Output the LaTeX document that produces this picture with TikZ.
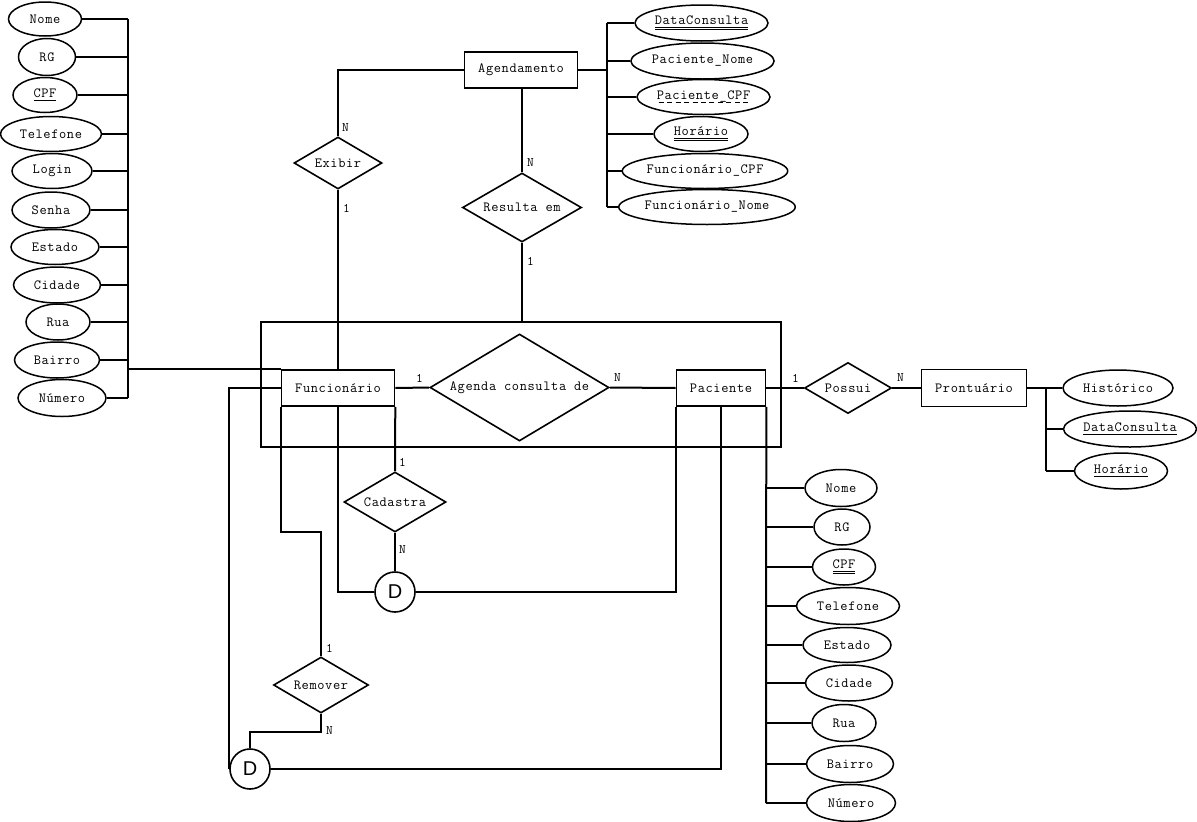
\documentclass[tikz,border=0pt]{standalone}
\usepackage{fontspec}
\setmainfont{Liberation Mono}
\newfontfamily\dfont{Liberation Sans}
\newfontfamily\courf{Latin Modern Mono}[LetterSpace=4.5]
\usetikzlibrary{shapes.geometric}
\newcommand\myul[1]{\setbox0\hbox{#1}\rlap{\rule[-3pt]{\wd0}{1.3pt}}\box0}
\newcommand\mydul[1]{\setbox0\hbox{#1}\rlap{\rule[-2.6pt]{\wd0}{0.9pt}}\rlap{\rule[-4.8pt]{\wd0}{0.9pt}}\box0}
\newcommand\mydashul[1]{\setbox0\hbox{#1}\rlap{\hbox to \wd0{\xleaders\hbox to 8pt{\hss\rule[-3.5pt]{5pt}{1.3pt}\hss}\hfill}}\box0}
\begin{document}
\begin{tikzpicture}[x=1pt,y=-1pt,
  font=\courf\fontsize{14}{16}\selectfont,
  attr/.style={ellipse,draw,line width=1.5pt,inner sep=0pt},
  ent/.style={rectangle,draw,line width=1.6pt,inner sep=0pt},
  rel/.style={diamond,draw,line width=1.6pt,inner sep=0pt,aspect=1.7},
  card/.style={anchor=west,inner sep=0pt,font=\courf\fontsize{13}{15}\selectfont},
  disj/.style={circle,draw,line width=1.6pt,minimum size=40pt,inner sep=0pt,font=\dfont\fontsize{20}{22}\selectfont},
  conn/.style={line width=2pt}]
\useasboundingbox (0,0) rectangle (1197,822);
% aggregation rectangle
\node[draw,line width=1.8pt,minimum width=520pt,minimum height=125pt,inner sep=0pt] (agg) at (521,384.5) {};
% Funcionario attributes
\node[attr,minimum width=73pt,minimum height=34pt] (fa1) at (45,19) {Nome};
\node[attr,minimum width=57pt,minimum height=37pt] (fa2) at (47,57) {RG};
\node[attr,minimum width=64pt,minimum height=35pt] (fa3) at (45,95) {\myul{CPF}};
\node[attr,minimum width=101pt,minimum height=35pt] (fa4) at (51,134) {Telefone};
\node[attr,minimum width=80pt,minimum height=35pt] (fa5) at (52,171) {Login};
\node[attr,minimum width=78pt,minimum height=36pt] (fa6) at (51,210) {Senha};
\node[attr,minimum width=88pt,minimum height=35pt] (fa7) at (55,247) {Estado};
\node[attr,minimum width=87pt,minimum height=36pt] (fa8) at (57,285) {Cidade};
\node[attr,minimum width=64pt,minimum height=36pt] (fa9) at (58,322) {Rua};
\node[attr,minimum width=85pt,minimum height=36pt] (fa10) at (57,360) {Bairro};
\node[attr,minimum width=88pt,minimum height=37pt] (fa11) at (62,398) {Número};
\coordinate (fbusT) at (128,19);
\coordinate (fbusB) at (128,398);
% Agendamento attributes
\node[attr,minimum width=133pt,minimum height=36pt] (aa1) at (701.5,23) {\mydul{DataConsulta}};
\node[attr,minimum width=141pt,minimum height=36pt] (aa2) at (702.5,61) {Paciente\_Nome};
\node[attr,minimum width=133pt,minimum height=35pt] (aa3) at (703.5,97) {\mydashul{Paciente\_CPF}};
\node[attr,minimum width=94pt,minimum height=35pt] (aa4) at (701,134) {\mydul{Horário}};
\node[attr,minimum width=156pt,minimum height=35pt] (aa5) at (705,171) {Funcionário\_CPF};
\node[attr,minimum width=166pt,minimum height=35pt] (aa6) at (707,207) {Funcionário\_Nome};
\coordinate (abusT) at (607,23);
\coordinate (abusB) at (607,207);
% Paciente attributes
\node[attr,minimum width=72pt,minimum height=37pt] (pa1) at (841,488) {Nome};
\node[attr,minimum width=56pt,minimum height=36pt] (pa2) at (842,527) {RG};
\node[attr,minimum width=63pt,minimum height=36pt] (pa3) at (844,567) {\mydul{CPF}};
\node[attr,minimum width=103pt,minimum height=37pt] (pa4) at (848,606) {Telefone};
\node[attr,minimum width=88pt,minimum height=35pt] (pa5) at (847,645) {Estado};
\node[attr,minimum width=87pt,minimum height=36pt] (pa6) at (849,683) {Cidade};
\node[attr,minimum width=64pt,minimum height=37pt] (pa7) at (844,723) {Rua};
\node[attr,minimum width=87pt,minimum height=37pt] (pa8) at (850,764) {Bairro};
\node[attr,minimum width=89pt,minimum height=37pt] (pa9) at (851,803) {Número};
\coordinate (pbusB) at (766,803);
% Prontuario attributes
\node[attr,minimum width=110pt,minimum height=36pt] (ra1) at (1118,388) {Histórico};
\node[attr,minimum width=133pt,minimum height=36pt] (ra2) at (1130,429) {\myul{DataConsulta}};
\node[attr,minimum width=93pt,minimum height=36pt] (ra3) at (1121,471) {\myul{Horário}};
\coordinate (rbusT) at (1046,388);
\coordinate (rbusB) at (1046,471);
% entities
\node[ent,minimum width=113pt,minimum height=36pt] (ag) at (521,70) {Agendamento};
\node[ent,minimum width=113pt,minimum height=36pt] (fn) at (338,388) {Funcionário};
\node[ent,minimum width=89pt,minimum height=36pt] (pa) at (721,388) {Paciente};
\node[ent,minimum width=105pt,minimum height=37pt] (pr) at (974,388) {Prontuário};
% relationships
\node[rel,aspect=1.69,minimum width=88pt,minimum height=52pt] (ex) at (338,163) {Exibir};
\node[rel,aspect=1.72,minimum width=119pt,minimum height=69pt] (re) at (522,207.5) {Resulta em};
\node[rel,aspect=1.67,minimum width=179pt,minimum height=107pt] (ac) at (519.5,387.5) {Agenda consulta de};
\node[rel,aspect=1.7,minimum width=87pt,minimum height=51pt] (po) at (848,388) {Possui};
\node[rel,aspect=1.7,minimum width=102pt,minimum height=60pt] (ca) at (395,502) {Cadastra};
\node[rel,aspect=1.7,minimum width=95pt,minimum height=56pt] (rm) at (321,685) {Remover};
\node[disj] (d1) at (395,592) {D};
\node[disj] (d2) at (250,769) {D};
% connectors: Funcionario attributes
\draw[conn] (fbusT) -- (fbusB);
\foreach \n in {fa1,fa2,fa3,fa4,fa5,fa6,fa7,fa8,fa9,fa10,fa11}
  \draw[conn] (\n.east) -- (\n.east -| fbusT);
\draw[conn] (fn.north west) -- (fn.north west -| fbusT);
% Agendamento attributes
\draw[conn] (abusT) -- (abusB);
\draw[conn] (ag.east) -- (ag.east -| abusT);
\foreach \n in {aa1,aa2,aa3,aa4,aa5,aa6}
  \draw[conn] (\n.west) -- (\n.west -| abusT);
% Paciente attributes
\draw[conn] (pa.south east) -- (pbusB);
\foreach \n in {pa1,pa2,pa3,pa4,pa5,pa6,pa7,pa8,pa9}
  \draw[conn] (\n.west) -- (\n.west -| pbusB);
% Prontuario attributes
\draw[conn] (pr.east) -- (ra1.west);
\draw[conn] (rbusT) -- (rbusB);
\draw[conn] (ra2.west) -- (ra2.west -| rbusT);
\draw[conn] (ra3.west) -- (ra3.west -| rbusT);
% Exibir
\draw[conn] (ag.west) -| (ex.north);
\draw[conn] (ex.south) -- (ex.south |- fn.north);
\node[card] at (342,128) {N};
\node[card] at (343,208) {1};
% Resulta em
\draw[conn] (re.north) -- (re.north |- ag.south);
\draw[conn] (re.south) -- (re.south |- agg.north);
\node[card] at (527,163) {N};
\node[card] at (527,261) {1};
% Agenda consulta de
\draw[conn] (fn.east) -- (ac.west);
\draw[conn] (ac.east) -- (pa.west);
\node[card] at (416,378) {1};
\node[card] at (614,378) {N};
% Possui
\draw[conn] (pa.east) -- (po.west);
\draw[conn] (po.east) -- (pr.west);
\node[card] at (792,378) {1};
\node[card] at (897,378) {N};
% Cadastra
\draw[conn] (fn.south east) -- (ca.north);
\draw[conn] (ca.south) -- (d1.north);
\node[card] at (399,462) {1};
\node[card] at (399,550) {N};
\draw[conn] (fn.south) -- (fn.south |- d1.west) -- (d1.west);
\draw[conn] (d1.east) -| (pa.south west);
% Remover
\draw[conn] (fn.south west) -- ++(0,125) -| (rm.north);
\draw[conn] (rm.south) -- ++(0,18) -| (d2.north);
\node[card] at (326,648) {1};
\node[card] at (326,731) {N};
\draw[conn] (fn.west) -- (fn.west -| d2.west) -- (d2.west);
\draw[conn] (d2.east) -| (pa.south);
\end{tikzpicture}
\end{document}
